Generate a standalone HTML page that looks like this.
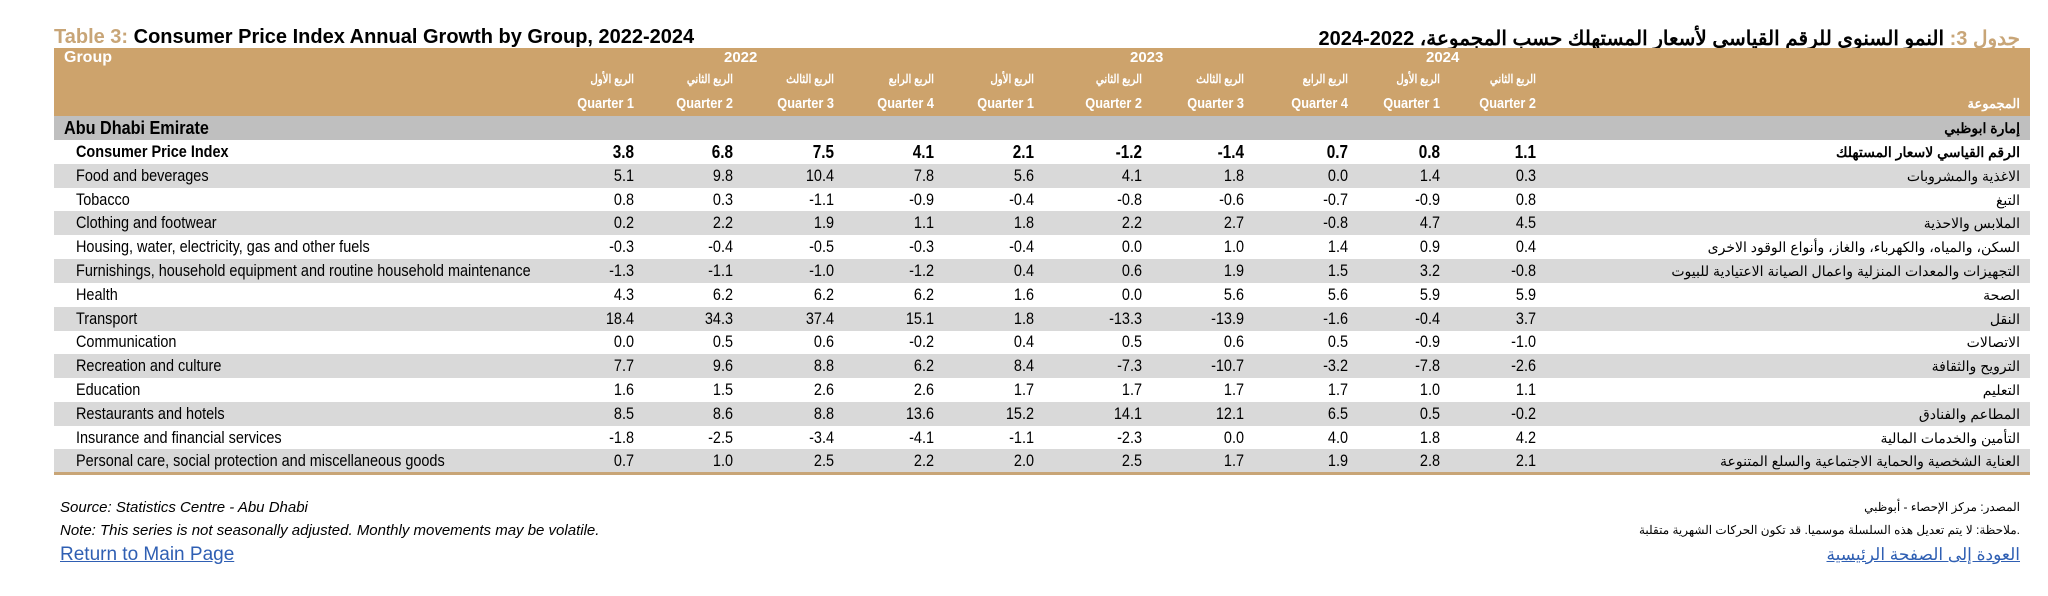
<!DOCTYPE html>
<html><head><meta charset="utf-8"><style>
body{margin:0;width:2048px;height:596px;background:#fff;position:relative;overflow:hidden;font-family:"Liberation Sans","Noto Sans CJK SC",sans-serif;color:#000}
div{position:absolute;white-space:nowrap}
.t{font-weight:bold;font-size:20px;top:26px}
.hdr{left:54px;width:1976px;top:48px;height:68px;background:#CDA36C}
.band{left:54px;width:1976px;height:24px}
.h{color:#fff;font-weight:bold;font-size:15px}
.c{font-size:17px;text-align:right;width:90px;transform:scaleX(0.85);transform-origin:right center}
.g{font-size:17px;left:76px;width:548px;overflow:hidden;transform:scaleX(0.85);transform-origin:left center}
.a{font-size:14px;right:28px;text-align:right}
.f{font-size:15px;font-style:italic}
</style></head><body>
<div class="t" style="left:54px"><span style="color:#C8A577">Table 3:</span> Consumer Price Index Annual Growth by Group, 2022-2024</div>
<div class="t" style="right:28px;direction:rtl"><span style="color:#C8A577">جدول 3:</span> النمو السنوي للرقم القياسي لأسعار المستهلك حسب المجموعة، 2022-2024</div>
<div class="hdr"></div>
<div class="h" style="left:64px;top:49px;font-size:16px">Group</div>
<div class="h" style="left:724px;top:49px">2022</div>
<div class="h" style="left:1130px;top:49px">2023</div>
<div class="h" style="left:1426px;top:49px">2024</div>
<div class="h" style="right:28px;top:96px;font-size:13px">المجموعة</div>
<div id="qh"></div>
<div class="band" style="top:116px;height:24px;background:#BFBFBF"></div>
<div style="left:64px;top:118px;font-size:18px;font-weight:bold;transform:scaleX(0.9);transform-origin:left center">Abu Dhabi  Emirate</div>
<div class="a" style="top:120px;font-weight:bold">إمارة ابوظبي</div>
<div id="rows"></div>
<div style="left:54px;width:1976px;top:472px;height:3px;background:#C8A577"></div>
<div class="f" style="left:60px;top:499px">Source: Statistics Centre - Abu Dhabi</div>
<div class="f" style="left:60px;top:522px">Note: This series is not seasonally adjusted. Monthly movements may be volatile.</div>
<div style="left:60px;top:544px;font-size:19px;color:#2F5FB3;text-decoration:underline">Return to Main Page</div>
<div class="a" style="top:500px;font-size:12px">المصدر: مركز الإحصاء - أبوظبي</div>
<div class="a" style="top:523px;font-size:12px">ملاحظة: لا يتم تعديل هذه السلسلة موسميا. قد تكون الحركات الشهرية متقلبة.</div>
<div class="a" style="top:545px;font-size:17px;color:#2F5FB3;text-decoration:underline">العودة إلى الصفحة الرئيسية</div>
<script>
var R=[634,733,834,934,1034,1142,1244,1348,1440,1536];
var qa=["الربع الأول","الربع الثاني","الربع الثالث","الربع الرابع"];
var h="";
var qi=[0,1,2,3,0,1,2,3,0,1];
for(var i=0;i<10;i++){
h+='<div class="h c" style="left:'+(R[i]-90)+'px;top:72px;font-size:12px">'+qa[qi[i]]+'</div>';
h+='<div class="h c" style="left:'+(R[i]-90)+'px;top:95px;font-size:15px">Quarter '+(qi[i]+1)+'</div>';}
document.getElementById('qh').outerHTML=h;
var D=[
["Consumer Price Index","الرقم القياسي لاسعار المستهلك",[3.8,6.8,7.5,4.1,2.1,-1.2,-1.4,0.7,0.8,1.1]],
["Food and beverages","الاغذية والمشروبات",[5.1,9.8,10.4,7.8,5.6,4.1,1.8,0.0,1.4,0.3]],
["Tobacco","التبغ",[0.8,0.3,-1.1,-0.9,-0.4,-0.8,-0.6,-0.7,-0.9,0.8]],
["Clothing and footwear","الملابس والاحذية",[0.2,2.2,1.9,1.1,1.8,2.2,2.7,-0.8,4.7,4.5]],
["Housing, water, electricity, gas and other fuels","السكن، والمياه، والكهرباء، والغاز، وأنواع الوقود الاخرى",[-0.3,-0.4,-0.5,-0.3,-0.4,0.0,1.0,1.4,0.9,0.4]],
["Furnishings, household equipment and routine household maintenance","التجهيزات والمعدات المنزلية واعمال الصيانة الاعتيادية للبيوت",[-1.3,-1.1,-1.0,-1.2,0.4,0.6,1.9,1.5,3.2,-0.8]],
["Health","الصحة",[4.3,6.2,6.2,6.2,1.6,0.0,5.6,5.6,5.9,5.9]],
["Transport","النقل",[18.4,34.3,37.4,15.1,1.8,-13.3,-13.9,-1.6,-0.4,3.7]],
["Communication","الاتصالات",[0.0,0.5,0.6,-0.2,0.4,0.5,0.6,0.5,-0.9,-1.0]],
["Recreation and culture","الترويح والثقافة",[7.7,9.6,8.8,6.2,8.4,-7.3,-10.7,-3.2,-7.8,-2.6]],
["Education","التعليم",[1.6,1.5,2.6,2.6,1.7,1.7,1.7,1.7,1.0,1.1]],
["Restaurants and hotels","المطاعم والفنادق",[8.5,8.6,8.8,13.6,15.2,14.1,12.1,6.5,0.5,-0.2]],
["Insurance and financial services","التأمين والخدمات المالية",[-1.8,-2.5,-3.4,-4.1,-1.1,-2.3,0.0,4.0,1.8,4.2]],
["Personal care, social protection and miscellaneous goods","العناية الشخصية والحماية الاجتماعية والسلع المتنوعة",[0.7,1.0,2.5,2.2,2.0,2.5,1.7,1.9,2.8,2.1]]];
var s="";
for(var r=0;r<D.length;r++){
var y=140+r*23.8;
if(r%2==1)s+='<div class="band" style="top:'+y+'px;height:24px;background:#D9D9D9"></div>';
var b=r==0?'font-weight:bold;':'';
s+='<div class="g" style="top:'+(y+2)+'px;'+b+'">'+D[r][0]+'</div>';
s+='<div class="a" style="top:'+(y+4)+'px;'+b+'">'+D[r][1]+'</div>';
for(var i=0;i<10;i++)s+='<div class="c" style="left:'+(R[i]-90)+'px;top:'+(y+2)+'px;'+b+(r==0?'font-size:18px;':'')+'">'+D[r][2][i].toFixed(1)+'</div>';
}
document.getElementById('rows').outerHTML=s;
</script>
</body></html>
